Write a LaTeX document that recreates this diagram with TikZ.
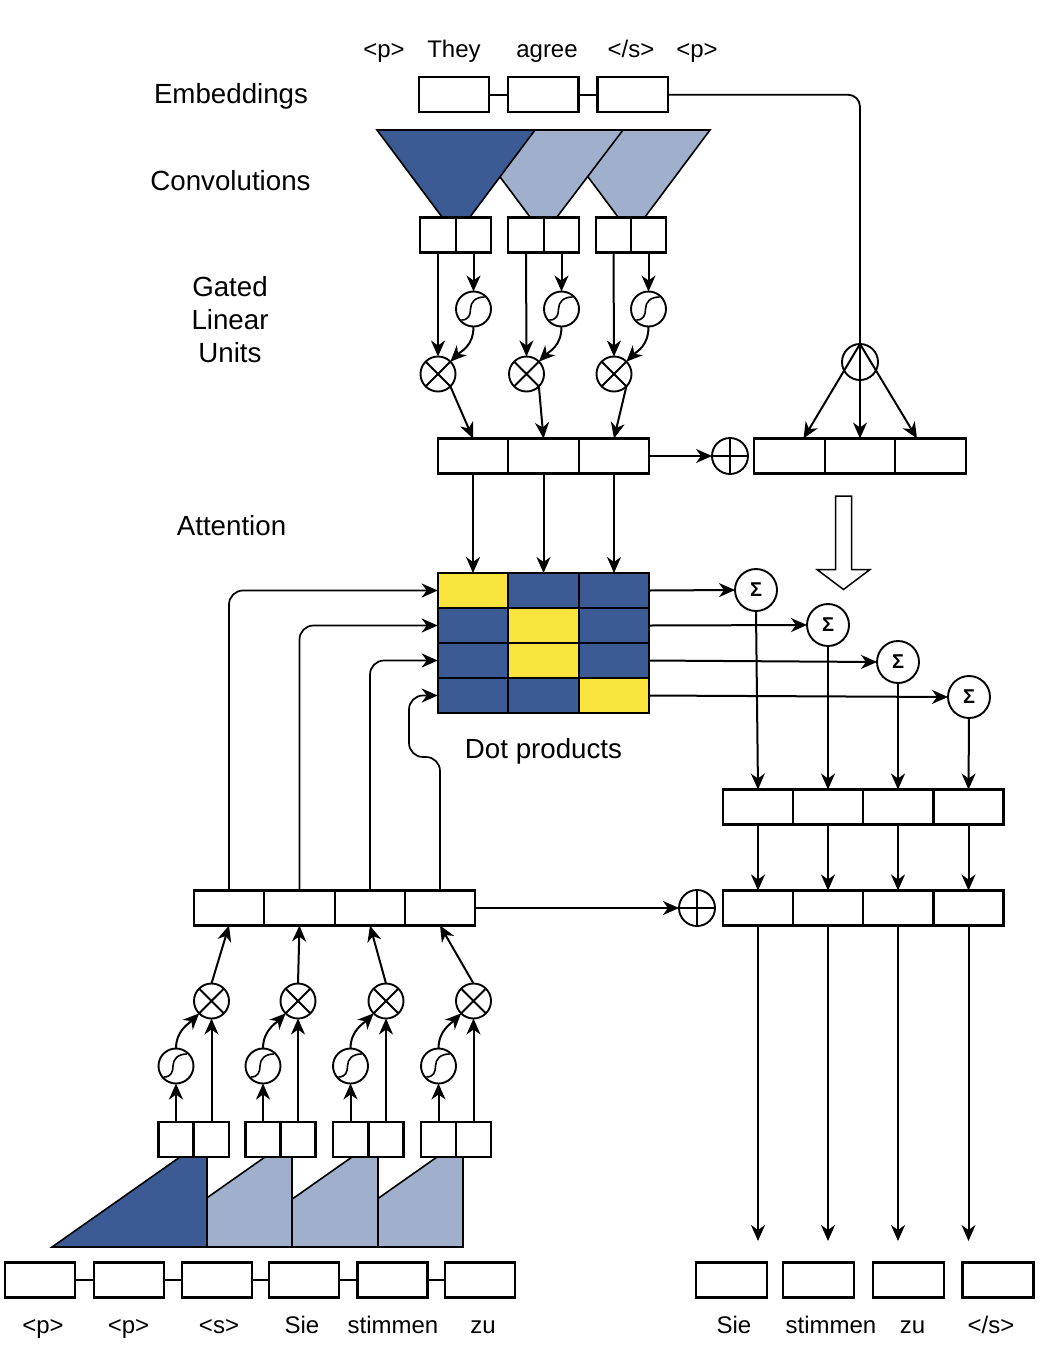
\documentclass[tikz,border=0pt]{standalone}
\usepackage{fontspec}
\setmainfont{Liberation Sans}
\usetikzlibrary{arrows.meta,calc}
\definecolor{convdark}{RGB}{60,90,147}
\definecolor{convlight}{RGB}{160,176,204}
\definecolor{hotcell}{RGB}{249,229,62}
% glyphs drawn inside operator circles
\newcommand\drawtimes[1]{\draw[line width=1.8pt] (#1.north east) -- (#1.south west) (#1.north west) -- (#1.south east);}
\newcommand\drawplus[1]{\draw[line width=1.8pt] (#1.north) -- (#1.south) (#1.west) -- (#1.east);}
\newcommand\drawsig[1]{\draw[line width=1.6pt, shift={(#1.center)}] (-12,11) .. controls (-5,11) and (-3,6) .. (-3,0) .. controls (-3,-7) and (2,-12) .. (11,-12);}
\begin{document}
\begin{tikzpicture}[x=1pt,y=-1pt,
  box/.style={draw, line width=2.2pt, fill=white, inner sep=0pt, outer sep=0pt, minimum height=35pt},
  wide/.style={box, minimum width=70.5pt},
  half/.style={box, minimum width=35.5pt},
  mcell/.style={box, minimum width=70.5pt, fill=#1},
  op/.style={circle, draw, line width=1.9pt, fill=white, inner sep=0pt, outer sep=0pt, minimum size=35pt},
  sumop/.style={op, minimum size=42pt, font=\fontsize{20}{22}\selectfont\bfseries},
  arr/.style={line width=2pt, -{Stealth[length=16pt,width=14pt,inset=5pt]}},
  wire/.style={line width=1.8pt},
  conv/.style={line width=1.6pt, draw=black, line join=miter},
  section/.style={font=\fontsize{27.7}{33}\selectfont, inner sep=0pt, anchor=base, align=center},
  token/.style={font=\fontsize{24}{29}\selectfont, inner sep=0pt, anchor=base},
]
\fill[white] (0,0) rectangle (1040,1350);
\useasboundingbox (0,0) rectangle (1040,1350);

% ---------- section labels ----------
\node[section] (lemb) at (231,103) {Embeddings};
\node[section] (lconv) at (230.5,190) {Convolutions};
\node[section] (lglu) at (230,362) {Gated\\Linear\\Units};
\node[section] (latt) at (231.5,535) {Attention};
\node[section] (ldot) at (543.5,758) {Dot products};

% ---------- source sentence ----------
\node[token] (w1) at (384,57) {<p>};
\node[token] (w2) at (454,57) {They};
\node[token] (w3) at (547,57) {agree};
\node[token] (w4) at (631,57) {</s>};
\node[token] (w5) at (697,57) {<p>};
\node[wide] (e1) at (454,94.7) {};
\node[wide] (e2) at (543.3,94.7) {};
\node[wide] (e3) at (632.7,94.7) {};
\draw[wire] (e1.east) -- (e2.west) (e2.east) -- (e3.west);

% encoder convolution filters
\filldraw[conv, fill=convlight] (553,130) -- (710,130) -- (645,217) -- (618,217) -- cycle;
\filldraw[conv, fill=convlight] (465,130) -- (623,130) -- (557,217) -- (530,217) -- cycle;
\filldraw[conv, fill=convdark] (377,130) -- (535,130) -- (470,217) -- (442,217) -- cycle;

% encoder output row
\node[wide] (r1) at (473,456) {};
\node[wide] (r2) at (543.5,456) {};
\node[wide] (r3) at (614,456) {};

% encoder gated linear units
\foreach \i/\xa/\xb/\xm in {1/438/473.5/438, 2/526/561.5/526.5, 3/613.5/648.5/614} {
  \node[half] (ea\i) at (\xa,235) {};
  \node[half] (eb\i) at (\xb,235) {};
  \node[op] (es\i) at (\xb,309) {};
  \node[op] (em\i) at (\xm,374) {};
  \drawsig{es\i}
  \drawtimes{em\i}
  \draw[arr] (ea\i.south) -- (em\i.north);
  \draw[arr] (eb\i.south) -- (es\i.north);
  \draw[arr] (es\i.south) .. controls +(0,20) and +(10,-10) .. (em\i.north east);
  \draw[arr] (em\i.south east) -- (r\i.north);
}

% residual: embeddings added to encoder output
\node[op, minimum size=36pt] (tp) at (730,456) {};
\drawplus{tp}
\draw[arr] (r3.east) -- (tp.west);
\node[wide] (q1) at (789.5,456) {};
\node[wide] (q2) at (860,456) {};
\node[wide] (q3) at (930.5,456) {};
\node[op, minimum size=36pt] (fc) at (860,362) {};
\draw[wire, rounded corners=12pt] (e3.east) -| (fc.north);
\draw[arr] (fc.north) -- ($(q1.north)+(14,0)$);
\draw[arr] (fc.north) -- (q2.north);
\draw[arr] (fc.north) -- ($(q3.north)+(-13.5,0)$);

% hollow arrow
\draw[line width=1.5pt, fill=white] (835.5,496) -- (851.5,496) -- (851.5,569.5) -- (870,569.5)
  -- (843.5,589.5) -- (817,569.5) -- (835.5,569.5) -- cycle;

% ---------- attention matrix ----------
\foreach \r/\y/\ca/\cb/\cc in {1/590.5/hotcell/convdark/convdark,
                               2/625.5/convdark/hotcell/convdark,
                               3/660.5/convdark/hotcell/convdark,
                               4/695.5/convdark/convdark/hotcell} {
  \node[mcell=\ca] (m\r1) at (473,\y) {};
  \node[mcell=\cb] (m\r2) at (543.5,\y) {};
  \node[mcell=\cc] (m\r3) at (614,\y) {};
}
\draw[arr] (r1.south) -- (m11.north);
\draw[arr] (r2.south) -- (m12.north);
\draw[arr] (r3.south) -- (m13.north);

% ---------- decoder ----------
\node[wide] (d1) at (229,908) {};
\node[wide] (d2) at (299.5,908) {};
\node[wide] (d3) at (370,908) {};
\node[wide] (d4) at (440,908) {};

\draw[arr, line width=1.7pt, rounded corners=14pt] (d1.north) |- (m11.west);
\draw[arr, line width=1.7pt, rounded corners=14pt] (d2.north) |- (m21.west);
\draw[arr, line width=1.7pt, rounded corners=14pt] (d3.north) |- (m31.west);
\coordinate (loopc) at (409,757);
\draw[arr, line width=1.7pt, rounded corners=14pt] (d4.north) |- (loopc) |- (m41.west);

% weighted sums
\node[sumop] (sg1) at (756,590) {Σ};
\node[sumop] (sg2) at (828,625) {Σ};
\node[sumop] (sg3) at (898,662) {Σ};
\node[sumop] (sg4) at (969,697) {Σ};
\draw[arr] (m13.east) -- (sg1.west);
\draw[arr] (m23.east) -- (sg2.west);
\draw[arr] (m33.east) -- (sg3.west);
\draw[arr] (m43.east) -- (sg4.west);

% context vectors
\foreach \i/\x in {1/758, 2/828, 3/898, 4/968.5} {
  \node[box, minimum width=70pt] (ca\i) at (\x,807) {};
  \node[box, minimum width=70pt] (cb\i) at (\x,908) {};
  \draw[arr] (sg\i.south) -- (ca\i.north);
  \draw[arr] (ca\i.south) -- (cb\i.north);
  \coordinate (o\i) at (\x,1241);
  \draw[arr] (cb\i.south) -- (o\i);
}
\node[op, minimum size=36pt] (dp) at (697,908) {};
\drawplus{dp}
\draw[arr] (d4.east) -- (dp.west);

% decoder causal convolution filters
\filldraw[conv, fill=convlight] (309,1247) -- (437,1157) -- (463,1157) -- (463,1247) -- cycle;
\filldraw[conv, fill=convlight] (224,1247) -- (352,1157) -- (378,1157) -- (378,1247) -- cycle;
\filldraw[conv, fill=convlight] (137,1247) -- (265,1157) -- (292,1157) -- (292,1247) -- cycle;
\filldraw[conv, fill=convdark] (52,1247) -- (180,1157) -- (207,1157) -- (207,1247) -- cycle;

% decoder gated linear units
\foreach \i/\xa/\xb in {1/176/211.5, 2/263/298, 3/350.5/386, 4/438.5/473.5} {
  \node[half, minimum width=35pt] (da\i) at (\xa,1139.5) {};
  \node[half, minimum width=35pt] (db\i) at (\xb,1139.5) {};
  \node[op] (ds\i) at (\xa,1066) {};
  \node[op] (dm\i) at (\xb,1001) {};
  \drawsig{ds\i}
  \drawtimes{dm\i}
  \draw[arr] (da\i.north) -- (ds\i.south);
  \draw[arr] (db\i.north) -- (dm\i.south);
  \draw[arr] (ds\i.north) .. controls +(0,-18) and +(-10,10) .. (dm\i.south west);
  \draw[arr] (dm\i.north) -- (d\i.south);
}

% ---------- target sentence (input) ----------
\foreach \i/\x in {1/40.3, 2/128.8, 3/217, 4/304, 5/392.5, 6/480.3} {
  \node[box, minimum width=70pt] (sx\i) at (\x,1280) {};
}
\draw[wire] (sx1.east) -- (sx2.west) (sx2.east) -- (sx3.west) (sx3.east) -- (sx4.west)
            (sx4.east) -- (sx5.west) (sx5.east) -- (sx6.west);
\node[token] (t1) at (43,1333) {<p>};
\node[token] (t2) at (128.5,1333) {<p>};
\node[token] (t3) at (219,1333) {<s>};
\node[token] (t4) at (302,1333) {Sie};
\node[token] (t5) at (393,1333) {stimmen};
\node[token] (t6) at (483,1333) {zu};

% ---------- target sentence (output) ----------
\node[box, minimum width=71pt] (ob1) at (731.3,1280) {};
\node[box, minimum width=71pt] (ob2) at (818.7,1280) {};
\node[box, minimum width=71pt] (ob3) at (908.8,1280) {};
\node[box, minimum width=71pt] (ob4) at (998,1280) {};
\node[token] (u1) at (734,1333) {Sie};
\node[token] (u2) at (831,1333) {stimmen};
\node[token] (u3) at (912.5,1333) {zu};
\node[token] (u4) at (991,1333) {</s>};
\end{tikzpicture}
\end{document}
